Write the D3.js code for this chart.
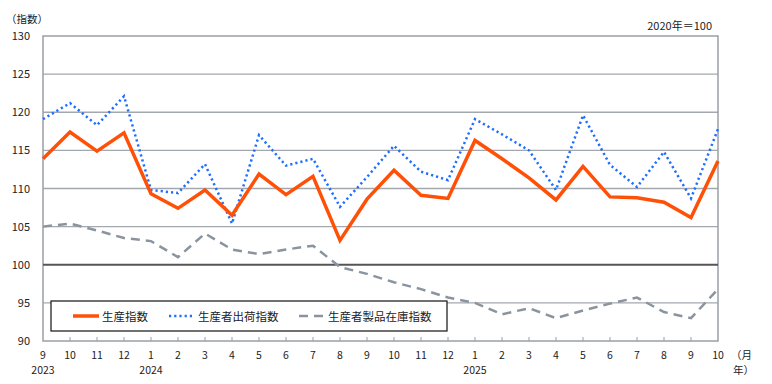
<!DOCTYPE html>
<html><head><meta charset="utf-8">
<script src="https://cdn.jsdelivr.net/npm/d3@7"></script>
<style>
body{margin:0;background:#fff;}
svg text{font-family:"Noto Sans CJK JP","Noto Sans",sans-serif;fill:#222;}
</style></head>
<body><svg id="c" width="772" height="384"></svg>
<script>
const months = ["9","10","11","12","1","2","3","4","5","6","7","8","9","10","11","12","1","2","3","4","5","6","7","8","9","10"];
const yearLabels = [{i:0,t:"2023"},{i:4,t:"2024"},{i:16,t:"2025"}];
const production = [113.9,117.4,114.9,117.3,109.3,107.4,109.8,106.5,111.9,109.2,111.6,103.2,108.6,112.4,109.1,108.7,116.3,113.9,111.4,108.5,112.9,108.9,108.8,108.2,106.2,113.6];
const shipments  = [119.1,121.2,118.3,122.1,109.8,109.4,113.2,105.4,117.0,113.0,113.9,107.6,111.5,115.6,112.2,111.1,119.1,117.1,115.0,109.8,119.6,113.1,110.2,114.8,108.7,117.8];
const inventory  = [105.0,105.4,104.5,103.5,103.1,101.0,104.1,102.0,101.4,102.0,102.5,99.7,98.8,97.7,96.8,95.7,95.0,93.5,94.3,93.0,94.0,94.9,95.7,93.8,93.0,96.8];
const yTicks = [90,95,100,105,110,115,120,125,130];
const seriesNames = ["生産指数","生産者出荷指数","生産者製品在庫指数"];

const svg = d3.select("#c");
const L=43, R=718, T=36, B=341;
const x = d3.scaleLinear().domain([0,months.length-1]).range([L,R]);
const y = d3.scaleLinear().domain([90,130]).range([B,T]);

// gridlines
svg.append("g").selectAll("line").data(yTicks.filter(v=>v!==90&&v!==100&&v!==130)).join("line")
  .attr("x1",L).attr("x2",R).attr("y1",d=>y(d)).attr("y2",d=>y(d))
  .attr("stroke","#a3a8ae").attr("stroke-width",1.3);
// frame
svg.append("rect").attr("x",L).attr("y",T).attr("width",R-L).attr("height",B-T)
  .attr("fill","none").attr("stroke","#9aa0a6").attr("stroke-width",1.5);
// 100 line
svg.append("line").attr("x1",L).attr("x2",R).attr("y1",y(100)).attr("y2",y(100))
  .attr("stroke","#555").attr("stroke-width",2);

// y axis labels
svg.append("g").selectAll("text").data(yTicks).join("text")
  .attr("x",30).attr("y",d=>y(d)+4).attr("text-anchor","end").attr("font-size",11).text(d=>d);
// x ticks
svg.append("g").selectAll("line").data(d3.range(1,months.length-1)).join("line")
  .attr("x1",d=>x(d)).attr("x2",d=>x(d)).attr("y1",B-4).attr("y2",B)
  .attr("stroke","#9aa0a6").attr("stroke-width",1);
svg.append("g").selectAll("text").data(months).join("text")
  .attr("x",(d,i)=>x(i)).attr("y",359).attr("text-anchor","middle").attr("font-size",10.5).text(d=>d);
svg.append("g").selectAll("text").data(yearLabels).join("text")
  .attr("x",d=>x(d.i)).attr("y",374).attr("text-anchor","middle").attr("font-size",10.5).text(d=>d.t);
svg.append("text").attr("x",731).attr("y",359).attr("font-size",10.5).text("（月");
svg.append("text").attr("x",733).attr("y",374).attr("font-size",10.5).text("年）");
svg.append("text").attr("x",6).attr("y",23).attr("font-size",10.5).text("（指数）");
svg.append("text").attr("x",712).attr("y",30).attr("text-anchor","end").attr("font-size",11).text("2020年＝100");

const line = d3.line().x((d,i)=>x(i)).y(d=>y(d));
const styles = [
  {data:production,color:"#ff5008",w:3.5,dash:null},
  {data:shipments,color:"#1f6fff",w:2.5,dash:"2.2,3"},
  {data:inventory,color:"#8a949e",w:2.5,dash:"9,6"}
];
[styles[2],styles[1],styles[0]].forEach(s=>{
  svg.append("path").attr("d",line(s.data)).attr("fill","none")
    .attr("stroke",s.color).attr("stroke-width",s.w)
    .attr("stroke-dasharray",s.dash).attr("stroke-linejoin","miter");
});

// legend
const lg = svg.append("g");
lg.append("rect").attr("x",51).attr("y",301).attr("width",396).attr("height",30)
  .attr("fill","#fff").attr("stroke","#111").attr("stroke-width",1.2);
const lx = [73,169,299];
styles.forEach((s,i)=>{
  lg.append("line").attr("x1",lx[i]).attr("x2",lx[i]+26).attr("y1",316).attr("y2",316)
    .attr("stroke",s.color).attr("stroke-width",s.w).attr("stroke-dasharray",s.dash);
  lg.append("text").attr("x",lx[i]+29).attr("y",320.5).attr("font-size",11.5).text(seriesNames[i]);
});
</script></body></html>
